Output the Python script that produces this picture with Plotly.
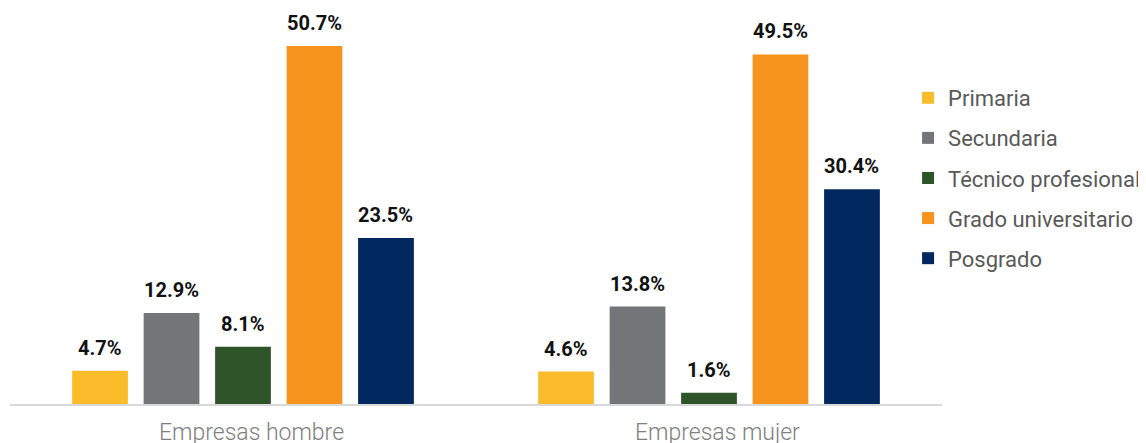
import plotly.graph_objects as go

categories = ["Empresas hombre", "Empresas mujer"]
series_names = ["Primaria", "Secundaria", "Técnico profesional", "Grado universitario", "Posgrado"]
primaria = [4.7, 4.6]
secundaria = [12.9, 13.8]
tecnico = [8.1, 1.6]
grado = [50.7, 49.5]
posgrado = [23.5, 30.4]
series_values = [primaria, secundaria, tecnico, grado, posgrado]
colors = ["#FBBC2B", "#737678", "#2F5429", "#F7941E", "#00285E"]

bargap = 0.233
bargroupgap = 0.22
n = len(series_names)
xpos = list(range(len(categories)))

fig = go.Figure()
annotations = []
slot = (1 - bargap) / n
for j, (name, vals, col) in enumerate(zip(series_names, series_values, colors)):
    fig.add_trace(go.Bar(
        x=xpos, y=vals, name=name, marker=dict(color=col, line=dict(width=0)),
        legendgroup=name,
    ))
    for i, v in zip(xpos, vals):
        xc = i - (1 - bargap) / 2 + (j + 0.5) * slot
        annotations.append(dict(
            x=xc, y=v, xref="x", yref="y", text=f"<b>{v:.1f}%</b>",
            showarrow=False, yanchor="middle", yshift=23,
            font=dict(family="Roboto", size=20, color="#111111"),
        ))

# category labels (slightly right of group centre, as in the reference)
for i, cat in zip(xpos, categories):
    annotations.append(dict(
        x=i, y=0, xref="x", yref="y", text=cat, showarrow=False,
        xanchor="center", yanchor="top", xshift=8, yshift=-13,
        font=dict(family="Roboto", size=23, color="#808080", weight=300),
    ))

fig.update_layout(
    width=1138, height=435,
    margin=dict(l=2, r=204, t=2, b=39, autoexpand=False),
    paper_bgcolor="white", plot_bgcolor="white",
    barmode="group", bargap=bargap, bargroupgap=bargroupgap,
    annotations=annotations,
    legend=dict(
        x=0.9636, y=0.830, xanchor="left", yanchor="top",
        font=dict(family="Roboto", size=22, color="#595959"),
        traceorder="grouped", tracegroupgap=8.5,
        itemclick=False,
    ),
    xaxis=dict(
        tickmode="array", tickvals=xpos, ticktext=categories,
        range=[-0.5, len(categories) - 0.5],
        showgrid=False, zeroline=False, ticks="", showticklabels=False,
        showline=True, linecolor="#D9D9D9", linewidth=2,
        automargin=False,
    ),
    yaxis=dict(range=[0, 55.8], visible=False, showgrid=False, zeroline=False, automargin=False),
)

fig.write_html("out.html")
